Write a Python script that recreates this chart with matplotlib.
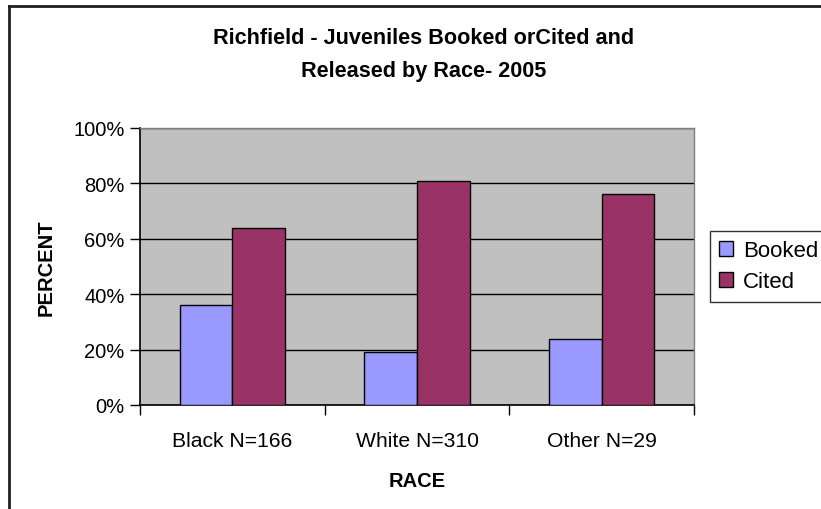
import numpy as np
import matplotlib
matplotlib.use("Agg")
import matplotlib.pyplot as plt
from matplotlib.patches import Patch
from matplotlib.lines import Line2D
from matplotlib.ticker import FuncFormatter, MultipleLocator

# ==============================
#  Data
# ==============================
races = ["Black N=166", "White N=310", "Other N=29"]
booked = [0.36, 0.19, 0.24]
cited = [0.64, 0.81, 0.76]
series_names = ["Booked", "Cited"]
colors = ["#9999FF", "#993366"]

plt.rcParams['font.family'] = ['Liberation Sans', 'DejaVu Sans']

fig = plt.figure(figsize=(8.21, 5.10), dpi=100)
W, H = 821, 510
ax = fig.add_axes([140 / W, 1 - 406 / H, (694 - 140) / W, (406 - 129) / H])
ax.set_facecolor("#C0C0C0")

x = np.arange(len(races))
w = 1 / 3.5
ax.bar(x - w / 2, booked, w, color=colors[0], edgecolor="black", linewidth=1.0, zorder=3)
ax.bar(x + w / 2, cited, w, color=colors[1], edgecolor="black", linewidth=1.0, zorder=3)

ax.set_xlim(-0.5, len(races) - 0.5)
ax.set_ylim(0, 1)
ax.yaxis.set_major_locator(MultipleLocator(0.2))
ax.yaxis.set_major_formatter(FuncFormatter(lambda v, p: f"{v * 100:.0f}%"))
ax.grid(axis="y", color="black", linewidth=1.0, zorder=1)

ax.set_xticks(x)
ax.set_xticklabels(races)
ax.set_xticks(np.arange(-0.5, len(races), 1), minor=True)
ax.tick_params(axis="x", which="major", length=0, pad=19, labelsize=15.2)
ax.tick_params(axis="x", which="minor", length=7, width=1, direction="out")
ax.tick_params(axis="y", length=7, width=1, direction="out", pad=4, labelsize=14.5)

for s in ["left", "bottom"]:
    ax.spines[s].set_color("black")
    ax.spines[s].set_linewidth(1.2)
for s in ["top", "right"]:
    ax.spines[s].set_color("#808080")
    ax.spines[s].set_linewidth(1.0)

ax.set_xlabel("RACE", fontsize=14.5, fontweight="bold", labelpad=15)
ax.set_ylabel("PERCENT", fontsize=14.5, fontweight="bold", labelpad=13)

# title
fig.text(424 / W, 1 - 39 / H, "Richfield - Juveniles Booked orCited and",
         ha="center", va="center", fontsize=15.6, fontweight="bold")
fig.text(424 / W, 1 - 72 / H, "Released by Race- 2005",
         ha="center", va="center", fontsize=15.6, fontweight="bold")

# legend
handles = [Patch(facecolor=c, edgecolor="black", linewidth=1.0) for c in colors]
leg = fig.legend(handles, series_names, loc="upper left",
                 bbox_to_anchor=(710 / W, 1 - 232 / H), bbox_transform=fig.transFigure,
                 borderaxespad=0, fontsize=16, frameon=True, fancybox=False,
                 handlelength=0.6, handleheight=0.6, handletextpad=0.45,
                 labelspacing=0.45, borderpad=0.42)
leg.get_frame().set_edgecolor("black")
leg.get_frame().set_linewidth(1.0)

# outer chart border (left and top visible)
fig.add_artist(Line2D([9 / W, 9 / W], [0, 1 - 7 / H], transform=fig.transFigure,
                      color="#202020", linewidth=2))
fig.add_artist(Line2D([9 / W, 1], [1 - 7 / H, 1 - 7 / H], transform=fig.transFigure,
                      color="#202020", linewidth=2))

fig.savefig("out.png", dpi=100)
